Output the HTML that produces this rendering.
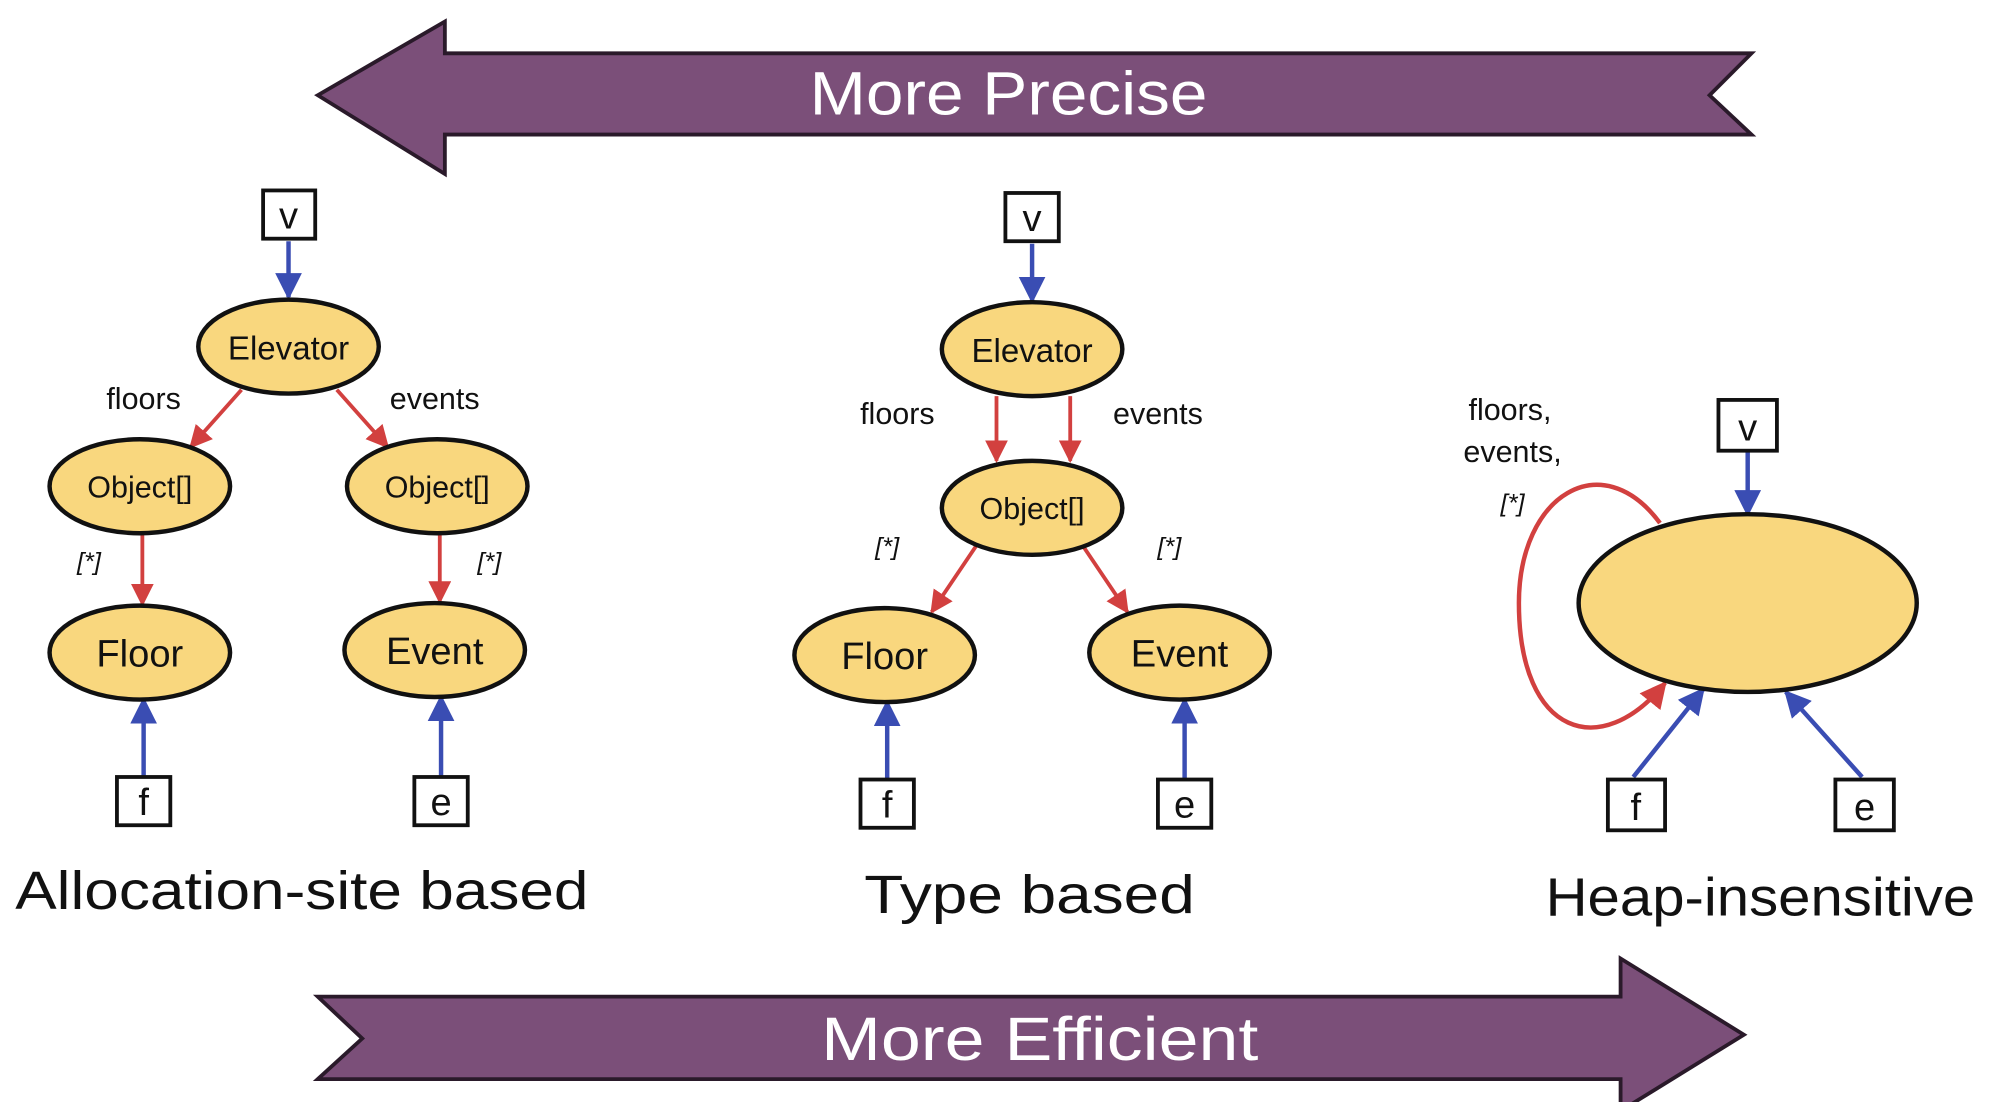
<!DOCTYPE html>
<html><head><meta charset="utf-8"><style>
html,body{margin:0;padding:0;background:#fff;}
svg{display:block}
text{font-family:"Liberation Sans",sans-serif;}
</style></head><body>
<svg width="1993" height="1102" viewBox="0 0 1568 868" preserveAspectRatio="none" xmlns="http://www.w3.org/2000/svg">
<defs>
<marker id="bl" viewBox="0 0 10 10" refX="9" refY="5" markerWidth="6" markerHeight="6" orient="auto"><path d="M0,0L10,5L0,10z" fill="#3a4db3"/></marker>
<marker id="rd" viewBox="0 0 10 10" refX="9" refY="5" markerWidth="6" markerHeight="6" orient="auto"><path d="M0,0L10,5L0,10z" fill="#d2403f"/></marker>
</defs>
<rect width="1568" height="868" fill="#fff"/>
<path d="M250,75 L350,17 L350,42 L1378,42 L1345,75 L1378,106 L350,106 L350,137 Z" fill="#7b4f79" stroke="#2a1a2a" stroke-width="3"/>
<text x="637" y="90" font-size="48" fill="#fff" textLength="313" lengthAdjust="spacingAndGlyphs">More Precise</text>
<path d="M250,785 L1275,785 L1275,755 L1372,815 L1275,875 L1275,850 L250,850 L285,818 Z" fill="#7b4f79" stroke="#2a1a2a" stroke-width="3"/>
<text x="646" y="835" font-size="48" fill="#fff" textLength="344" lengthAdjust="spacingAndGlyphs">More Efficient</text>

<g stroke-width="3.5" fill="none">
<line x1="227" y1="190" x2="227" y2="234" stroke="#3a4db3" marker-end="url(#bl)"/>
<line x1="190" y1="307" x2="150" y2="352" stroke="#d2403f" stroke-width="3" marker-end="url(#rd)"/>
<line x1="265" y1="307" x2="305" y2="352" stroke="#d2403f" stroke-width="3" marker-end="url(#rd)"/>
<line x1="112" y1="420" x2="112" y2="476" stroke="#d2403f" stroke-width="3" marker-end="url(#rd)"/>
<line x1="346" y1="420" x2="346" y2="474" stroke="#d2403f" stroke-width="3" marker-end="url(#rd)"/>
<line x1="113" y1="612" x2="113" y2="551" stroke="#3a4db3" marker-end="url(#bl)"/>
<line x1="347" y1="612" x2="347" y2="549" stroke="#3a4db3" marker-end="url(#bl)"/>
<line x1="812" y1="192" x2="812" y2="237" stroke="#3a4db3" marker-end="url(#bl)"/>
<line x1="784" y1="312" x2="784" y2="363" stroke="#d2403f" stroke-width="3" marker-end="url(#rd)"/>
<line x1="842" y1="312" x2="842" y2="363" stroke="#d2403f" stroke-width="3" marker-end="url(#rd)"/>
<line x1="768" y1="430" x2="733" y2="482" stroke="#d2403f" stroke-width="3" marker-end="url(#rd)"/>
<line x1="852" y1="430" x2="887" y2="482" stroke="#d2403f" stroke-width="3" marker-end="url(#rd)"/>
<line x1="698" y1="614" x2="698" y2="553" stroke="#3a4db3" marker-end="url(#bl)"/>
<line x1="932" y1="614" x2="932" y2="551" stroke="#3a4db3" marker-end="url(#bl)"/>
<line x1="1375" y1="356" x2="1375" y2="405" stroke="#3a4db3" marker-end="url(#bl)"/>
<line x1="1285" y1="612" x2="1340" y2="543" stroke="#3a4db3" marker-end="url(#bl)"/>
<line x1="1465" y1="612" x2="1405" y2="545" stroke="#3a4db3" marker-end="url(#bl)"/>
<path d="M1306,412 C1260,350 1195,390 1195,475 C1195,580 1260,600 1310,538" stroke="#d2403f" stroke-width="3.5" marker-end="url(#rd)"/>
</g>

<g fill="#f9d77e" stroke="#111" stroke-width="3.5">
<ellipse cx="227" cy="273" rx="71" ry="37"/>
<ellipse cx="110" cy="383" rx="71" ry="37"/>
<ellipse cx="344" cy="383" rx="71" ry="37"/>
<ellipse cx="110" cy="514" rx="71" ry="37"/>
<ellipse cx="342" cy="512" rx="71" ry="37"/>
<ellipse cx="812" cy="275" rx="71" ry="37"/>
<ellipse cx="812" cy="400" rx="71" ry="37"/>
<ellipse cx="696" cy="516" rx="71" ry="37"/>
<ellipse cx="928" cy="514" rx="71" ry="37"/>
<ellipse cx="1375" cy="475" rx="133" ry="70"/>
</g>
<g fill="#fff" stroke="#111" stroke-width="3">
<rect x="207" y="150" width="41" height="38"/>
<rect x="92" y="612" width="42" height="38"/>
<rect x="326" y="612" width="42" height="38"/>
<rect x="791" y="152" width="42" height="38"/>
<rect x="677" y="614" width="42" height="38"/>
<rect x="911" y="614" width="42" height="38"/>
<rect x="1352" y="315" width="46" height="40"/>
<rect x="1265" y="614" width="45" height="40"/>
<rect x="1444" y="614" width="46" height="40"/>
</g>
<g font-size="30" text-anchor="middle" fill="#111">
<text x="227" y="180">v</text><text x="113" y="642">f</text><text x="347" y="642">e</text>
<text x="812" y="182">v</text><text x="698" y="644">f</text><text x="932" y="644">e</text>
<text x="1375" y="347">v</text><text x="1287" y="646">f</text><text x="1467" y="646">e</text>
</g>
<g font-size="26" text-anchor="middle" fill="#111">
<text x="227" y="283">Elevator</text>
<text x="110" y="392" font-size="24">Object[]</text>
<text x="344" y="392" font-size="24">Object[]</text>
<text x="110" y="525" font-size="30">Floor</text>
<text x="342" y="523" font-size="30">Event</text>
<text x="812" y="285">Elevator</text>
<text x="812" y="409" font-size="24">Object[]</text>
<text x="696" y="527" font-size="30">Floor</text>
<text x="928" y="525" font-size="30">Event</text>
</g>
<g font-size="24" text-anchor="middle" fill="#111">
<text x="113" y="322">floors</text><text x="342" y="322">events</text>
<text x="70" y="449" font-style="italic" font-size="20">[*]</text><text x="385" y="449" font-style="italic" font-size="20">[*]</text>
<text x="706" y="334">floors</text><text x="911" y="334">events</text>
<text x="698" y="437" font-style="italic" font-size="20">[*]</text><text x="920" y="437" font-style="italic" font-size="20">[*]</text>
<text x="1188" y="331">floors,</text><text x="1190" y="364">events,</text>
<text x="1190" y="403" font-style="italic" font-size="20">[*]</text>
</g>
<g font-size="42" fill="#111">
<text x="12" y="716" textLength="451" lengthAdjust="spacingAndGlyphs">Allocation-site based</text>
<text x="680" y="719" textLength="260" lengthAdjust="spacingAndGlyphs">Type based</text>
<text x="1216" y="721" textLength="338" lengthAdjust="spacingAndGlyphs">Heap-insensitive</text>
</g>
</svg>
</body></html>
